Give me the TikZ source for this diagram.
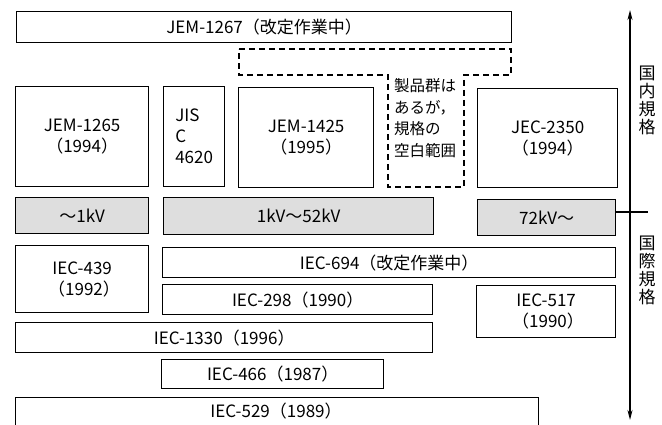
\documentclass[tikz,border=0pt]{standalone}
\usepackage{fontspec}
\setmainfont{Noto Sans CJK JP}
\usetikzlibrary{arrows.meta}
\tikzset{
  x=1pt, y=-1pt,
  box/.style={draw, line width=1.3pt, inner sep=0pt, anchor=north west, align=center,
    font=\fontsize{17}{21}\selectfont},
  graybox/.style={box, fill=black!13},
  dashedline/.style={line width=1.3pt, dash pattern=on 6pt off 4pt},
  sidelabel/.style={font=\fontsize{17}{18}\selectfont, align=center, inner sep=0pt},
  axis/.style={line width=1.4pt, {Stealth[length=10pt,width=5pt]}-{Stealth[length=10pt,width=5pt]}}
}
\begin{document}
\begin{tikzpicture}
\useasboundingbox (0,0) rectangle (662,425);
\clip (0,0) rectangle (662,425);
% national standards
\node[box, minimum width=495pt, minimum height=31pt] (jem1267) at (16,11) {JEM-1267（改定作業中）};
\node[box, minimum width=133pt, minimum height=100pt] (jem1265) at (15,86) {JEM-1265\\（1994）};
\node[box, minimum width=61pt, minimum height=100pt, align=left] (jis) at (163,86) {JIS\\C\\4620};
\node[box, minimum width=135pt, minimum height=100pt] (jem1425) at (238,87) {JEM-1425\\（1995）};
\node[box, minimum width=140pt, minimum height=99pt] (jec2350) at (477,88) {JEC-2350\\（1994）};
% gap region (dashed)
\draw[dashedline] (239,49) -- (511,49) -- (511,75) -- (464,75) -- (464,187) -- (388,187) -- (388,75) -- (239,75) -- cycle;
\node[sidelabel, align=left, font=\fontsize{15.5}{21.5}\selectfont] (gap) at (425,118) {製品群は\\あるが，\\規格の\\空白範囲};
% voltage ranges
\node[graybox, minimum width=133pt, minimum height=36pt] (kv1) at (15,197) {～1kV};
\node[graybox, minimum width=270pt, minimum height=37pt] (kv52) at (163,197) {1kV～52kV};
\node[graybox, minimum width=138pt, minimum height=36pt] (kv72) at (477,199) {72kV～};
% international standards
\node[box, minimum width=133pt, minimum height=67pt] (iec439) at (15,245) {IEC-439\\\ （1992）};
\node[box, minimum width=453pt, minimum height=30pt] (iec694) at (162,247) {IEC-694（改定作業中）};
\node[box, minimum width=270pt, minimum height=30pt] (iec298) at (162,284) {IEC-298（1990）};
\node[box, minimum width=139pt, minimum height=52pt] (iec517) at (476,285) {IEC-517\\\ （1990）};
\node[box, minimum width=417pt, minimum height=30pt] (iec1330) at (15,322) {IEC-1330（1996）};
\node[box, minimum width=222pt, minimum height=29pt] (iec466) at (161,359) {IEC-466（1987）};
\node[box, minimum width=523pt, minimum height=36pt, anchor=north west] (iec529) at (15,397) {};
\node[font=\fontsize{17}{21}\selectfont, inner sep=0pt] (iec529t) at (276,411) {IEC-529（1989）};
% axis
\coordinate (atop) at (630,10);
\coordinate (abot) at (630,420);
\draw[axis] (abot) -- (atop);
\coordinate (tickend) at (648,212);
\draw[line width=1.4pt] (kv72.east |- tickend) -- (tickend);
\node[sidelabel] (dom) at (647,100) {国\\内\\規\\格};
\node[sidelabel] (intl) at (647,270) {国\\際\\規\\格};
\end{tikzpicture}
\end{document}
